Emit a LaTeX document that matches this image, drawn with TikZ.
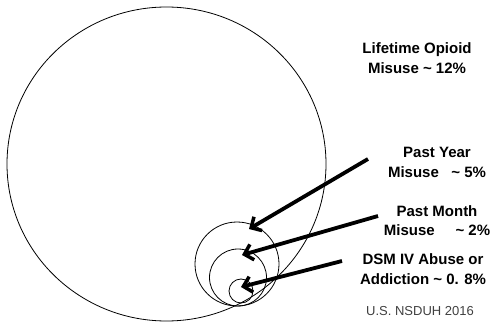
\documentclass[tikz,border=0pt]{standalone}
\usepackage{fontspec}
\setmainfont{Liberation Sans}[BoldFont={Liberation Sans Bold}]
\newfontfamily\lblfont{Liberation Sans Bold}
\usetikzlibrary{arrows.meta,shapes.geometric}
\begin{document}
\begin{tikzpicture}[x=1pt,y=-1pt,
  ring/.style={draw=black,line width=0.8pt},
  pointer/.style={draw=black,line width=3.8pt,-{Straight Barb[length=8pt,width=16pt,line width=3.5pt]}},
  lbl/.style={font=\lblfont\fontsize{15}{19.5}\selectfont,align=center,inner sep=0pt},
  src/.style={font=\fontsize{13}{15}\selectfont,text=black!75,inner sep=0pt,anchor=north west}]
\useasboundingbox (0,0) rectangle (498,323);
\node[ring,ellipse,minimum width=319pt,minimum height=314pt,inner sep=0pt] (life) at (166.5,164) {};
\node[ring,circle,minimum size=84pt,inner sep=0pt] (year) at (237,264) {};
\node[ring,circle,minimum size=57pt,inner sep=0pt] (month) at (238,277.5) {};
\node[ring,circle,minimum size=24pt,inner sep=0pt] (dsm) at (241,291) {};
\node[lbl] (tlife) at (417,58) {Lifetime Opioid\\Misuse \textasciitilde{} 12\%};
\node[lbl] (tyear) at (437,162.5) {Past Year\\Misuse\ \ \ \textasciitilde{} 5\%};
\node[lbl] (tmonth) at (437,220.5) {Past Month\\Misuse\ \ \ \ \ \textasciitilde{} 2\%};
\node[lbl] (tdsm) at (423,269) {DSM IV Abuse or\\Addiction \textasciitilde{} 0. 8\%};
\node[src] (ref) at (366,306) {U.S. NSDUH 2016};
\coordinate (s1) at (368,159);
\coordinate (e1) at (249,229);
\coordinate (s2) at (378,216);
\coordinate (e2) at (242,255);
\coordinate (s3) at (342,261);
\coordinate (e3) at (241,287);
\draw[pointer] (s1) -- (e1);
\draw[pointer] (s2) -- (e2);
\draw[pointer] (s3) -- (e3);
\end{tikzpicture}
\end{document}
